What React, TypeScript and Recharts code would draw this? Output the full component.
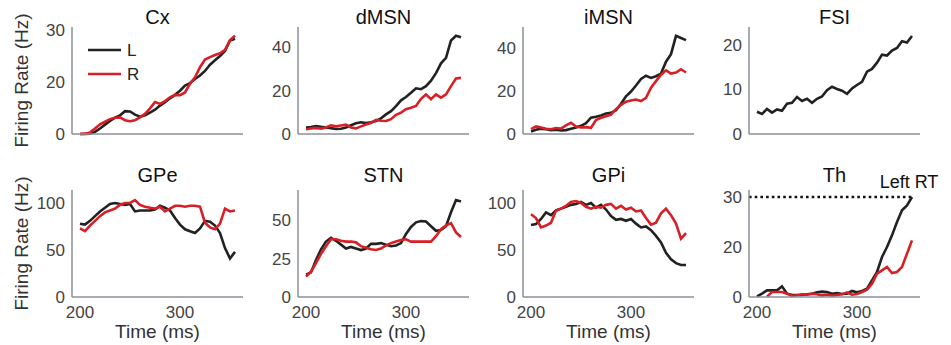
import { LineChart, Line, XAxis, YAxis, Legend, ReferenceLine } from "recharts";

// time axis (ms)
const TIME = [200, 205, 210, 215, 220, 225, 230, 235, 240, 245, 250, 255, 260, 265, 270, 275,
  280, 285, 290, 295, 300, 305, 310, 315, 320, 325, 330, 335, 340, 345, 350, 355];

const CX_L = [0, 0, 0.1, 0.6, 1.6, 2.7, 3.8, 4.7, 5.4, 6.6, 6.5, 5.6, 5.0, 5.4, 6.2, 7.0,
  8.2, 9.2, 10.3, 11.3, 12.5, 14.0, 14.7, 15.9, 16.9, 18.2, 20.0, 21.3, 22.5, 24.0, 27.0, 27.5];
const CX_R = [0, 0.1, 0.4, 1.6, 2.8, 3.6, 4.3, 4.7, 4.8, 4.0, 3.7, 4.0, 4.8, 5.8, 7.4, 9.2,
  8.7, 9.5, 10.6, 11.3, 11.2, 12.0, 14.5, 16.4, 19.3, 21.5, 22.2, 22.8, 23.3, 24.3, 27.1, 28.4];

const DMSN_L = [3.0, 3.2, 3.7, 3.3, 3.0, 2.7, 2.3, 2.4, 3.0, 4.0, 4.9, 5.4, 5.0, 5.4, 6.0, 7.2,
  9.0, 10.5, 12.8, 15.5, 17.0, 19.0, 21.0, 20.6, 22.0, 24.5, 28.0, 32.5, 35.0, 43.0, 45.2, 44.5];
const DMSN_R = [2.2, 2.5, 2.8, 2.5, 3.0, 4.0, 3.5, 3.9, 4.3, 3.0, 2.6, 3.5, 4.4, 5.0, 6.5, 6.1,
  6.0, 6.8, 8.8, 9.8, 11.4, 12.1, 12.9, 16.2, 18.2, 16.0, 18.2, 16.7, 18.2, 22.0, 25.5, 25.8];

const IMSN_L = [1.2, 2.0, 2.5, 2.2, 1.8, 2.0, 1.6, 1.8, 2.4, 3.0, 3.8, 5.0, 7.6, 8.0, 8.6, 9.5,
  9.8, 11.0, 14.0, 17.5, 19.7, 22.5, 25.5, 27.0, 26.0, 26.8, 28.0, 33.5, 37.0, 45.5, 44.5, 43.5];
const IMSN_R = [2.3, 3.5, 3.0, 2.4, 2.2, 2.8, 2.5, 4.0, 5.2, 3.5, 3.0, 3.2, 2.9, 6.5, 7.5, 8.2,
  9.0, 11.5, 13.5, 15.0, 15.5, 16.0, 15.3, 16.8, 21.5, 24.5, 27.5, 29.5, 28.0, 28.5, 30.0, 28.5];

const FSI_L = [5.0, 4.5, 5.6, 4.8, 5.5, 5.2, 6.8, 7.0, 8.3, 7.4, 7.9, 7.0, 7.9, 8.4, 9.8, 10.6,
  10.1, 9.7, 9.0, 10.2, 11.0, 11.7, 14.0, 14.6, 16.0, 17.8, 17.6, 18.7, 19.3, 20.8, 20.5, 22.0];

const GPE_L = [78, 77, 81, 86, 91, 95, 99, 100, 99, 98, 99, 91, 92, 92, 92, 93,
  97, 95, 92, 84, 77, 72, 70, 68, 73, 81, 80, 76, 68, 52, 41, 48];
const GPE_R = [73, 70, 76, 81, 86, 90, 92, 94, 98, 100, 100, 103, 98, 96, 95, 94,
  96, 91, 94, 97, 97, 96, 97, 97, 96, 79, 74, 72, 78, 94, 91, 92];

const STN_L = [14.5, 16, 24, 31, 36, 38.5, 36.5, 34, 31.5, 32.5, 31.5, 30.5, 31.5, 34.5, 34.5, 35,
  34, 33, 33.5, 35, 41, 45.5, 48.5, 49.3, 49, 46, 43, 43.5, 46, 55, 63, 62];
const STN_R = [13.2, 16.5, 22, 28, 33, 37.5, 37.5, 36.5, 36, 36, 35.5, 33, 32, 31, 30.5, 31.5,
  33.5, 35, 36, 37, 37.5, 36, 36, 36, 36, 36, 39.5, 44, 46.5, 48, 42, 39];

const GPI_L = [76.5, 77.5, 83, 90, 87, 92, 94, 96, 98, 99, 101, 98, 100, 95, 98, 93,
  86, 82, 83, 81, 83, 78, 74, 75, 71, 65, 58, 47, 40, 36, 34, 34];
const GPI_R = [88, 84, 74, 76, 79, 92, 94, 97, 101, 102, 100, 96, 94, 96, 95, 98,
  99, 94, 97, 93, 95, 91, 92, 84, 77, 79, 89, 94, 87, 78, 62, 68];

const TH_L = [0.2, 1.0, 2.0, 2.0, 2.0, 3.2, 1.0, 0.6, 0.6, 0.6, 0.8, 1.0, 1.4, 1.6, 1.5, 1.0,
  1.2, 0.9, 1.0, 1.8, 1.4, 1.8, 2.5, 5.0, 7.5, 12.0, 15.0, 18.5, 22.5, 26.0, 27.5, 30.0];
const TH_R = [null, null, 0.1, 1.5, 1.5, 1.5, 1.0, 0.3, 0.5, 0.8, 0.7, 1.0, 0.8, 0.5, 0.7, 0.4,
  0.6, 0.8, 1.4, 0.7, 0.9, 1.5, 2.2, 4.0, 7.0, 8.0, 9.0, 7.2, 7.5, 9.0, 13.0, 17.0];

// decision threshold and reaction time for the thalamus panel
const TH_THRESHOLD = 30;
const TH_RT = 355;

const TITLES = ["Cx", "dMSN", "iMSN", "FSI", "GPe", "STN", "GPi", "Th"];
const SERIES_L = [CX_L, DMSN_L, IMSN_L, FSI_L, GPE_L, STN_L, GPI_L, TH_L];
const SERIES_R = [CX_R, DMSN_R, IMSN_R, null, GPE_R, STN_R, GPI_R, TH_R];
const Y_MAX = [30.9, 49.2, 49.6, 24, 113.8, 69.5, 113.8, 32.1];
const Y_TICKS = [[0, 15, 30], [0, 20, 40], [0, 20, 40], [0, 10, 20], [0, 50, 100], [0, 25, 50], [0, 50, 100], [0, 15, 30]];
// the Cx and Th panels print "20" at their middle tick
const ODD_TICK_LABELS: Record<number, string> = { 0: "0", 15: "20", 30: "30" };
const ODD_LABEL_PANELS = [0, 7];
const X_TICKS = [200, 300];

const FONT = '"Liberation Sans", Arial, Helvetica, sans-serif';
const BLACK = "#222222";
const RED = "#d81f26";
const AXIS = "#8b9098";

const PLOT_W = 171;
const PLOT_H = 107;
const Y_W = 72;
const TOP_PAD = 25;
const COL_X = [72, 298, 523, 749];
const ROW_Y = [27, 190];
const TITLE_Y = [17, 175];

function LegendBox() {
  const items = [{ name: "L", color: BLACK }, { name: "R", color: RED }];
  return (
    <div>
      {items.map((it) => (
        <div key={it.name} style={{ display: "flex", alignItems: "center", height: 24 }}>
          <svg width={33} height={4}>
            <line x1={0} y1={2} x2={33} y2={2} stroke={it.color} strokeWidth={2.6} />
          </svg>
          <span style={{ marginLeft: 6, fontSize: 17, color: "#222", lineHeight: "17px" }}>{it.name}</span>
        </div>
      ))}
    </div>
  );
}

function Panel({ idx }: { idx: number }) {
  const col = idx % 4;
  const row = Math.floor(idx / 4);
  const bottom = row === 1;
  const xH = bottom ? 46 : 16;
  const L = SERIES_L[idx];
  const R = SERIES_R[idx];
  const data = TIME.map((t, i) => ({ t, L: L[i], R: R ? R[i] : null }));
  const oddLabels = ODD_LABEL_PANELS.includes(idx);
  const tickStyle = { fontSize: 17, fill: "#444" };
  const chartTop = ROW_Y[row] - TOP_PAD;

  return (
    <div style={{ position: "absolute", left: COL_X[col] - Y_W, top: chartTop }}>
      <LineChart
        width={Y_W + PLOT_W + 5}
        height={TOP_PAD + PLOT_H + xH}
        data={data}
        margin={{ top: TOP_PAD, right: 5, bottom: 0, left: 0 }}
      >
        <XAxis
          dataKey="t"
          type="number"
          domain={[192, 363]}
          ticks={X_TICKS}
          interval={0}
          tick={bottom ? tickStyle : false}
          tickLine={false}
          tickSize={6}
          tickMargin={3}
          height={xH}
          axisLine={{ stroke: AXIS, strokeWidth: 1.5 }}
          label={bottom ? { value: "Time (ms)", position: "insideBottom", offset: 5, fontSize: 19, fill: "#333" } : undefined}
        />
        <YAxis
          type="number"
          domain={[0, Y_MAX[idx]]}
          ticks={Y_TICKS[idx]}
          interval={0}
          tickFormatter={oddLabels ? (v: number) => ODD_TICK_LABELS[v] ?? String(v) : undefined}
          width={Y_W}
          tick={tickStyle}
          tickLine={false}
          tickSize={5}
          tickMargin={2}
          axisLine={{ stroke: AXIS, strokeWidth: 1.5 }}
          label={
            col === 0
              ? { value: "Firing Rate (Hz)", angle: -90, position: "insideLeft", offset: 21, fontSize: 19, fill: "#333", style: { textAnchor: "middle" } }
              : undefined
          }
        />
        {idx === 7 && (
          <ReferenceLine
            segment={[{ x: 192, y: TH_THRESHOLD }, { x: TH_RT, y: TH_THRESHOLD }]}
            stroke="#111"
            strokeWidth={2.6}
            strokeDasharray="2.6 3.1"
          />
        )}
        <Line dataKey="L" type="linear" stroke={BLACK} strokeWidth={2.6} dot={false} isAnimationActive={false} />
        {R && <Line dataKey="R" type="linear" stroke={RED} strokeWidth={2.6} dot={false} isAnimationActive={false} />}
        {idx === 0 && (
          <Legend
            layout="vertical"
            align="center"
            verticalAlign="middle"
            wrapperStyle={{ left: 88, top: 38 - chartTop, width: 60, height: 48 }}
            content={() => <LegendBox />}
          />
        )}
      </LineChart>
      <div
        style={{
          position: "absolute",
          left: Y_W,
          width: PLOT_W,
          top: TITLE_Y[row] - 10 - chartTop,
          textAlign: "center",
          fontSize: 20,
          lineHeight: "20px",
          color: "#111",
        }}
      >
        {TITLES[idx]}
      </div>
    </div>
  );
}

export default function App() {
  return (
    <div
      style={{
        position: "absolute",
        left: 0,
        top: 0,
        width: 951,
        height: 345,
        overflow: "hidden",
        background: "#fff",
        fontFamily: FONT,
      }}
    >
      {TITLES.map((_, i) => (
        <Panel key={i} idx={i} />
      ))}
      <div
        style={{
          position: "absolute",
          left: 869,
          width: 80,
          top: 173,
          textAlign: "center",
          fontSize: 18,
          lineHeight: "18px",
          color: "#111",
        }}
      >
        Left RT
      </div>
    </div>
  );
}
